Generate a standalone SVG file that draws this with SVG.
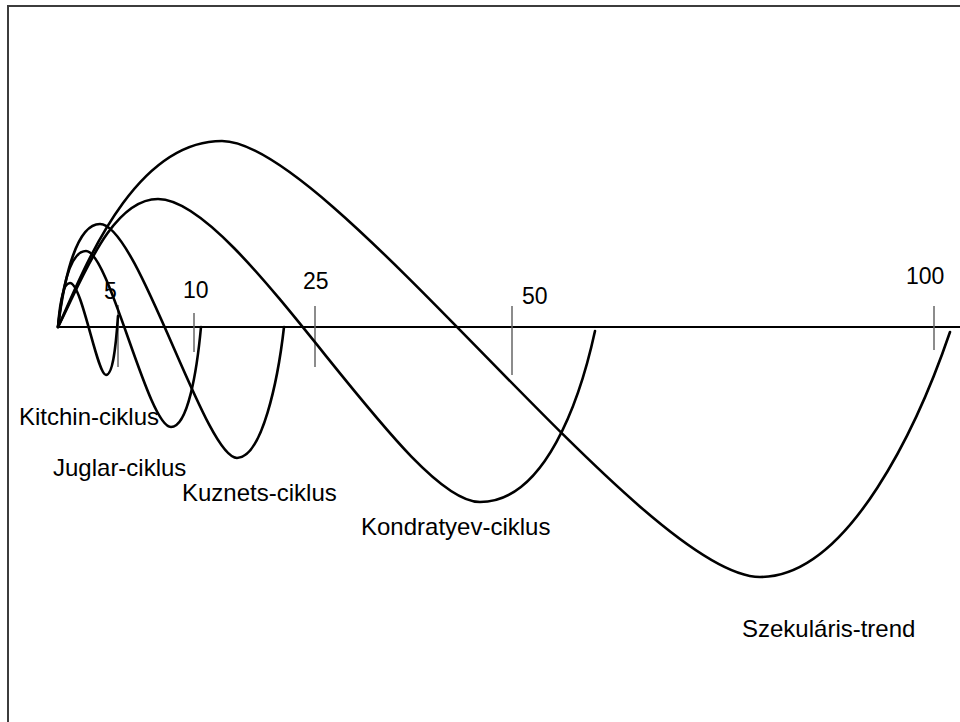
<svg xmlns="http://www.w3.org/2000/svg" width="960" height="722" viewBox="0 0 960 722">
<style>
.frame{fill:none;stroke:#3c3c3c;stroke-width:2}
.axis{stroke:#000;stroke-width:2;fill:none}
.tick{stroke:#666;stroke-width:1.5;fill:none}
.curve{fill:none;stroke:#000;stroke-width:2.6;stroke-linecap:round;stroke-linejoin:round}
.num{font-family:"Liberation Sans",Arial,sans-serif;font-size:23px;fill:#000}
.lbl{font-family:"Liberation Sans",Arial,sans-serif;font-size:24px;fill:#000}
</style>
<rect width="960" height="722" fill="#fff"/>
<rect class="frame" x="8" y="6" width="970" height="740"/>
<g id="axis">
<line class="axis" x1="57" y1="327" x2="960" y2="327"/>
<line class="tick" x1="118" y1="305" x2="118" y2="367"/>
<line class="tick" x1="194" y1="313" x2="194" y2="352"/>
<line class="tick" x1="315" y1="306" x2="315" y2="367"/>
<line class="tick" x1="512" y1="306" x2="512" y2="375"/>
<line class="tick" x1="934" y1="306" x2="934" y2="350"/>
<text class="num" x="104" y="299">5</text>
<text class="num" x="183" y="298">10</text>
<text class="num" x="303" y="289">25</text>
<text class="num" x="522" y="304">50</text>
<text class="num" x="906" y="284">100</text>
</g>
<g id="connectors">
<path id="kitchin" class="curve" d="M58,327 C60,300 64,283 70,283 C82,283 97,375 106,375 C113,375 116,345 118,316"/>
<path id="juglar" class="curve" d="M58,327 C62,290 70,251 86,251 C109,251 148,427 171,427 C188,427 197,370 201,327"/>
<path id="kuznets" class="curve" d="M58,327 C64,280 76,224 100,224 C138,224 205,458 237,458 C262,458 278,380 284,327"/>
<path id="kondratyev" class="curve" d="M58,327 C80,285 110,199 158,199 C240,199 405,502 480,502 C545,502 580,400 595,331"/>
<path id="szekularis" class="curve" d="M58,327 C80,280 130,141 222,141 C330,141 645,577 760,577 C850,577 920,420 950,332"/>
</g>
<g id="labels">
<text class="lbl" x="19" y="425">Kitchin-ciklus</text>
<text class="lbl" x="53" y="476">Juglar-ciklus</text>
<text class="lbl" x="182" y="501">Kuznets-ciklus</text>
<text class="lbl" x="361" y="535">Kondratyev-ciklus</text>
<text class="lbl" x="742" y="637">Szekuláris-trend</text>
</g>
</svg>
